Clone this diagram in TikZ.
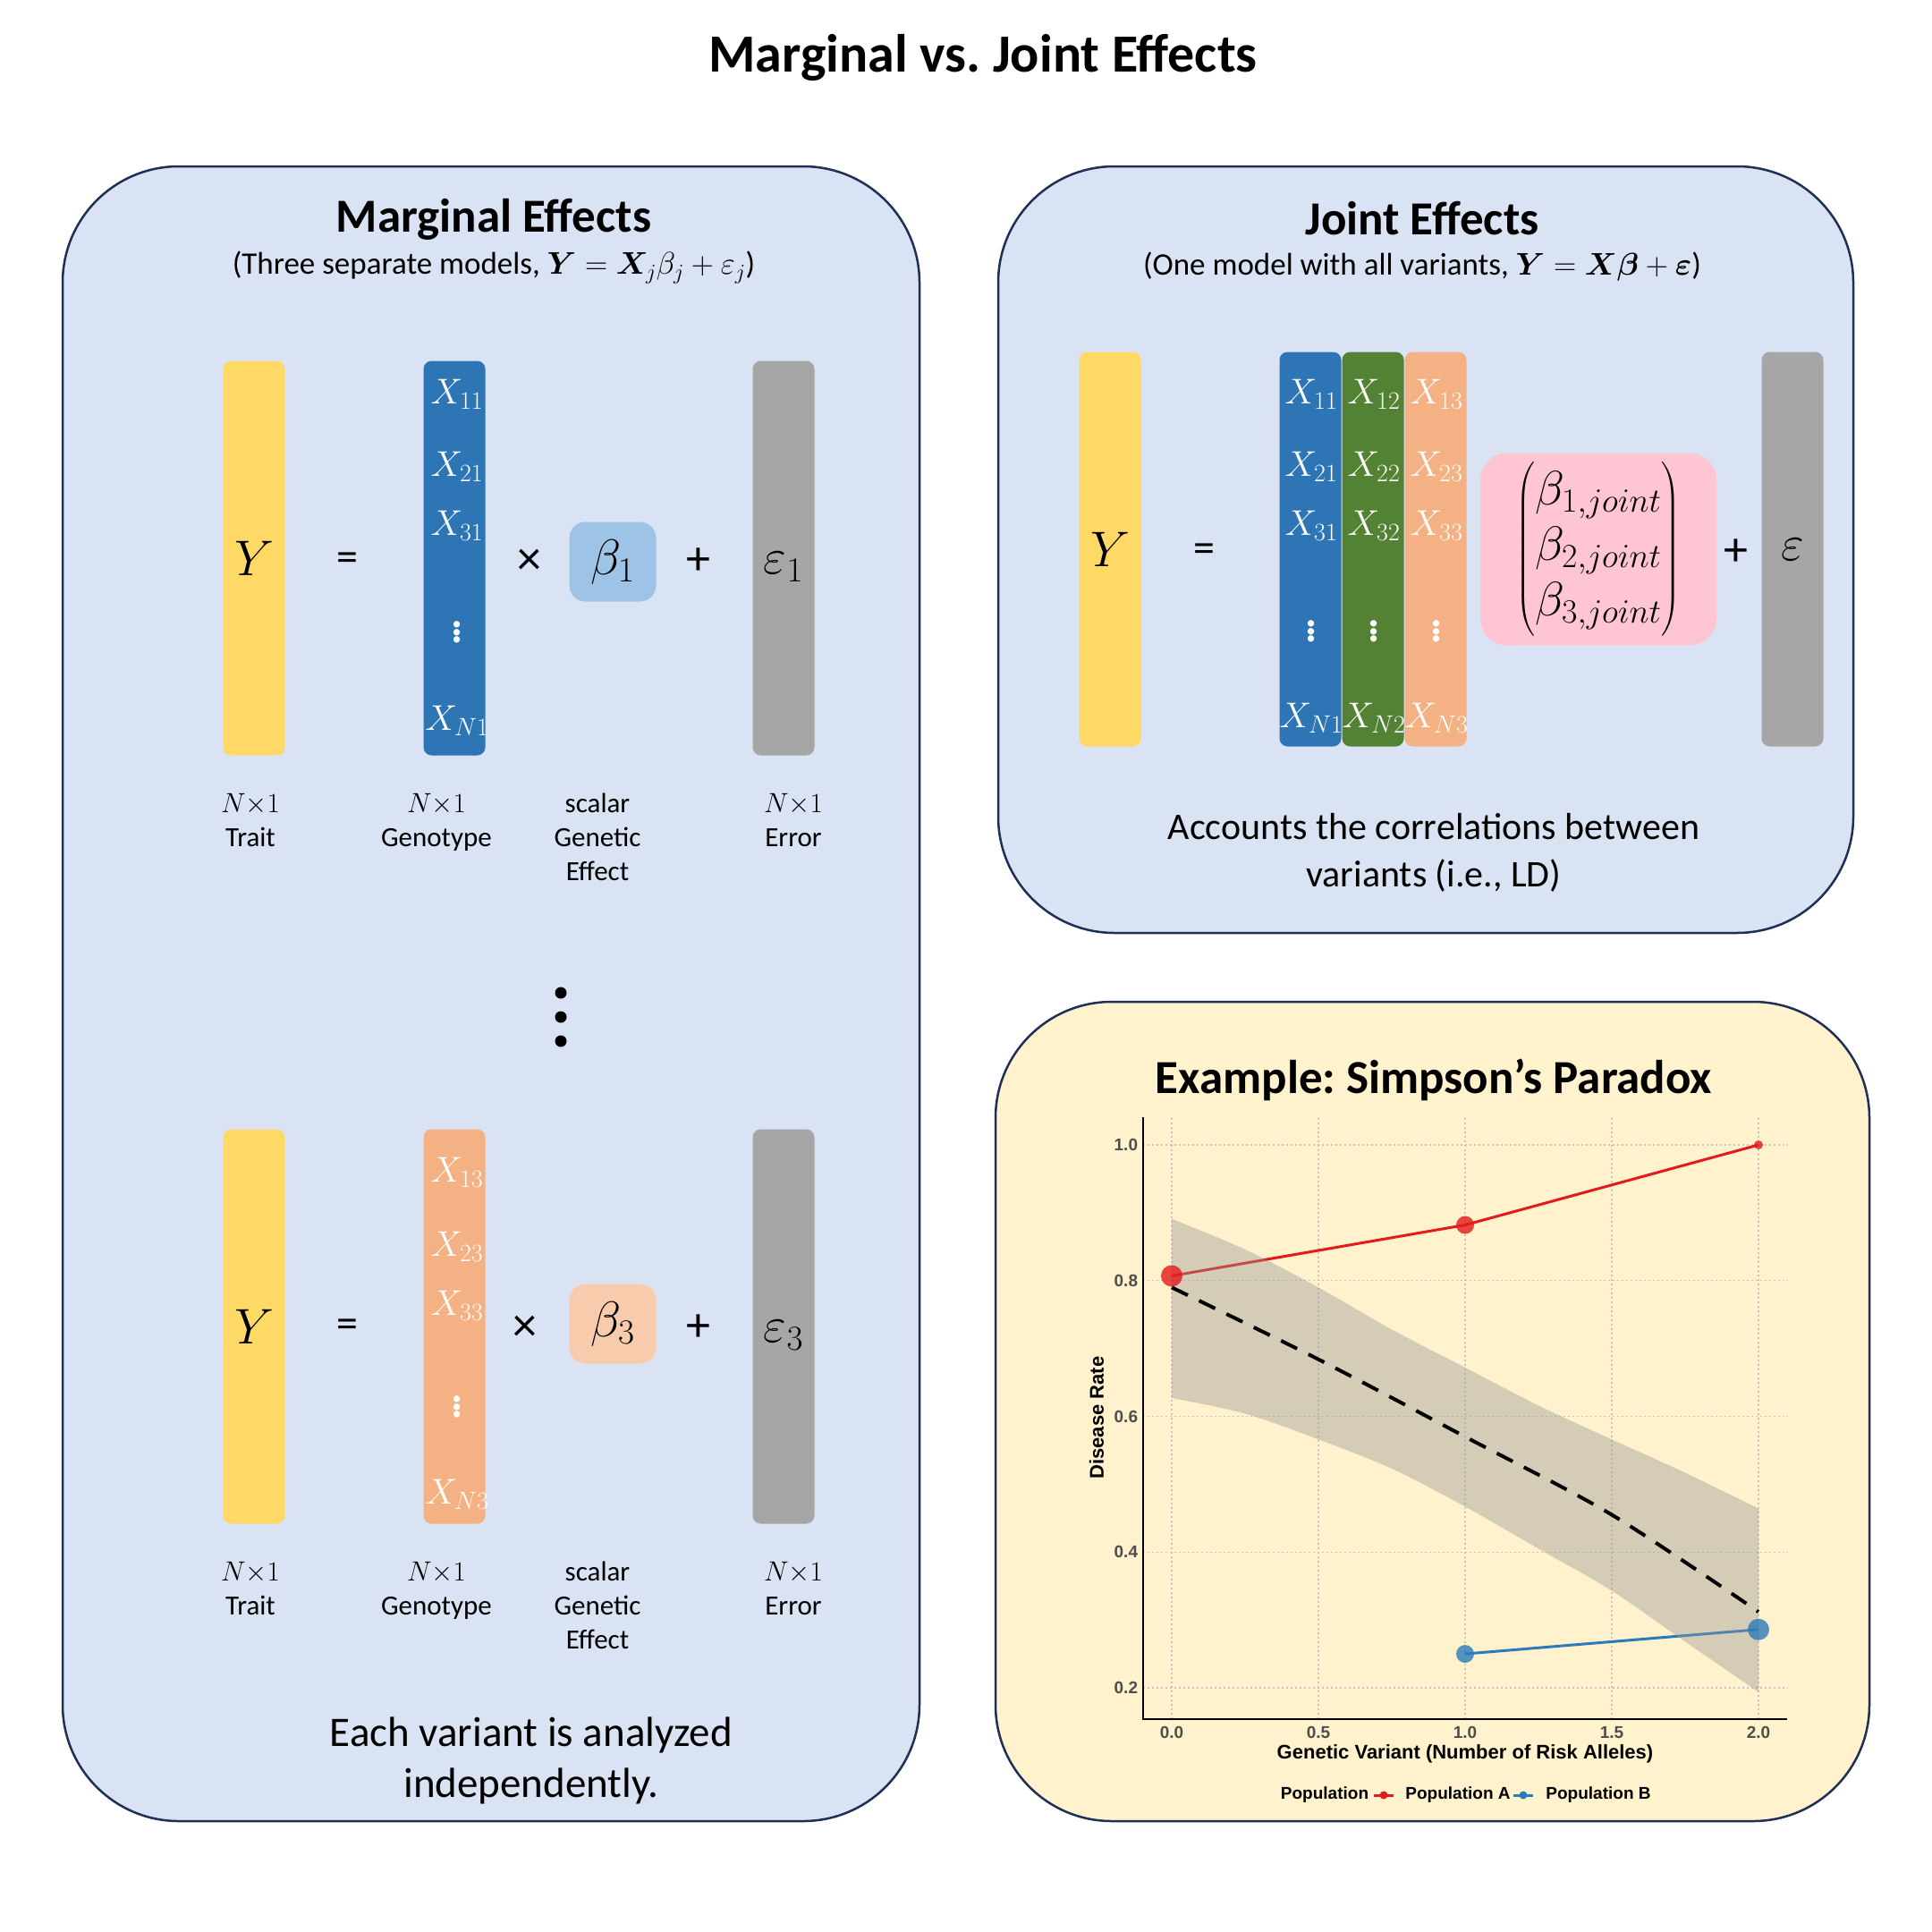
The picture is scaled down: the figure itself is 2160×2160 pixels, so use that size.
\RequirePackage{fix-cm}
\documentclass[tikz,border=0pt]{standalone}
\usepackage{amsmath}
\usepackage{bm}
\usepackage{fontspec}
\setmainfont{Carlito}
\newfontfamily\plotfont{Liberation Sans}
\usetikzlibrary{positioning}
\frenchspacing

\definecolor{panelblue}{HTML}{DAE3F3}
\definecolor{panelyellow}{HTML}{FFF2CC}
\definecolor{panelline}{HTML}{1F3056}
\definecolor{traitcol}{HTML}{FFD966}
\definecolor{snpone}{HTML}{2E75B6}
\definecolor{snptwo}{HTML}{548235}
\definecolor{snpthree}{HTML}{F4B183}
\definecolor{errcol}{HTML}{A6A6A6}
\definecolor{betaone}{HTML}{9DC3E6}
\definecolor{betathree}{HTML}{F8CBAD}
\definecolor{betajoint}{HTML}{FFC5D2}
\definecolor{bandgrey}{HTML}{959595}
\definecolor{popa}{HTML}{E41A1C}
\definecolor{popb}{HTML}{2B7BBA}
\definecolor{tickgrey}{HTML}{4D4D4D}
\definecolor{gridgrey}{HTML}{C4C4C4}

\tikzset{
  panel/.style={draw=panelline, line width=2.5pt, rounded corners=130pt},
  colbar/.style={rectangle, rounded corners=9pt, minimum width=69pt, minimum height=441pt,
    inner sep=0pt, font=\fontsize{56}{66}\selectfont},
  betabox/.style={rectangle, rounded corners=18pt, minimum width=97pt, minimum height=89pt,
    inner sep=0pt, font=\fontsize{56}{66}\selectfont},
  barlbl/.style={inner sep=0pt, font=\fontsize{56}{66}\selectfont},
  entry/.style={text=white, inner sep=0pt, font=\fontsize{40}{48}\selectfont},
  dotsentry/.style={text=white, inner sep=0pt, font=\fontsize{60}{70}\selectfont},
  opsym/.style={inner sep=0pt, font=\fontsize{54}{64}\selectfont},
  dimlbl/.style={align=center, anchor=north, inner sep=0pt, font=\fontsize{31}{38}\selectfont},
  heading/.style={font=\bfseries\fontsize{53}{64}\selectfont},
  subhead/.style={font=\fontsize{35}{42}\selectfont},
  note/.style={align=center, font=\fontsize{47}{57}\selectfont},
  bigdot/.style={circle, fill=black, minimum size=13pt, inner sep=0pt},
  gridline/.style={gridgrey, line width=1.2pt, dash pattern=on 2pt off 3pt},
  ticklbl/.style={text=tickgrey, inner sep=0pt, font=\plotfont\bfseries\fontsize{19}{23}\selectfont},
  axislbl/.style={inner sep=0pt, font=\plotfont\bfseries\fontsize{22}{26}\selectfont},
  leglbl/.style={inner sep=0pt, font=\plotfont\bfseries\fontsize{19}{23}\selectfont}
}

\begin{document}
\begin{tikzpicture}[x=1pt, y=-1pt]
    \useasboundingbox (0,0) rectangle (2160,2160);
    \fill[white] (0,0) rectangle (2160,2160);

    \node[font=\bfseries\fontsize{60}{72}\selectfont] (title) at (1099,65) {Marginal vs. Joint Effects};

    % panels
    \draw[panel, fill=panelblue] (70,186) rectangle (1028,2036);
    \draw[panel, fill=panelblue] (1116,186) rectangle (2072,1043);
    \draw[panel, fill=panelyellow] (1113,1120) rectangle (2090,2036);

    % marginal model
    \node[heading] (margtitle) at (552,245) {Marginal Effects};
    \node[subhead] (margsub) at (552,299) {(Three separate models, $\bm{Y} = \bm{X}_j\beta_j + \varepsilon_j$)};

    \node[colbar, fill=traitcol] (yone) at (284,624) {$Y$};
    \node[opsym, font=\fontsize{48}{58}\selectfont] (eqone) at (388,628) {=};
    \node[colbar, fill=snpone] (xone) at (508,624) {};
    \node[entry] (xoneone) at (511,441) {$X_{11}$};
    \node[entry] (xtwoone) at (511,522) {$X_{21}$};
    \node[entry] (xthreeone) at (511,588) {$X_{31}$};
    \node[dotsentry] (xdotsone) at (511,704) {$\vdots$};
    \node[entry] (xnone) at (511,806) {$X_{N1}$};
    \node[opsym] (timesone) at (592,628) {×};
    \node[betabox, fill=betaone] (betaone) at (685,628) {$\beta_1$};
    \node[opsym] (plusone) at (781,628) {+};
    \node[colbar, fill=errcol] (epsone) at (876,624) {};
    \node[barlbl] (epsonelbl) at (876,634) {$\varepsilon_1$};

    \node[dimlbl] (dimyone) at (280,887) {$N{\times}1$\\Trait};
    \node[dimlbl] (dimxone) at (488,887) {$N{\times}1$\\Genotype};
    \node[dimlbl] (dimbone) at (668,887) {scalar\\Genetic\\Effect};
    \node[dimlbl] (dimeone) at (887,887) {$N{\times}1$\\Error};

    \node[bigdot] (gapa) at (627,1110) {};
    \node[bigdot] (gapb) at (627,1137) {};
    \node[bigdot] (gapc) at (627,1164) {};

    \node[colbar, fill=traitcol] (ythree) at (284,1483) {$Y$};
    \node[opsym, font=\fontsize{48}{58}\selectfont] (eqthree) at (388,1485) {=};
    \node[colbar, fill=snpthree] (xthree) at (508,1483) {};
    \node[entry] (xonethree) at (511,1311) {$X_{13}$};
    \node[entry] (xtwothree) at (511,1394) {$X_{23}$};
    \node[entry] (xthreethree) at (511,1460) {$X_{33}$};
    \node[dotsentry] (xdotsthree) at (511,1570) {$\vdots$};
    \node[entry] (xnthree) at (511,1671) {$X_{N3}$};
    \node[opsym] (timesthree) at (587,1485) {×};
    \node[betabox, fill=betathree] (betathree) at (685,1480) {$\beta_3$};
    \node[opsym] (plusthree) at (781,1485) {+};
    \node[colbar, fill=errcol] (epsthree) at (876,1483) {};
    \node[barlbl] (epsthreelbl) at (876,1493) {$\varepsilon_3$};

    \node[dimlbl] (dimythree) at (280,1746) {$N{\times}1$\\Trait};
    \node[dimlbl] (dimxthree) at (488,1746) {$N{\times}1$\\Genotype};
    \node[dimlbl] (dimbthree) at (668,1746) {scalar\\Genetic\\Effect};
    \node[dimlbl] (dimethree) at (887,1746) {$N{\times}1$\\Error};

    \node[note] (margnote) at (594,1968) {Each variant is analyzed\\independently.};

    % joint model
    \node[heading] (jointtitle) at (1590,244) {Joint Effects};
    \node[subhead] (jointsub) at (1590,298) {(One model with all variants, $\bm{Y} = \bm{X\beta} + \bm{\varepsilon}$)};

    \node[colbar, fill=traitcol] (yjoint) at (1241,614) {$Y$};
    \node[opsym, font=\fontsize{48}{58}\selectfont] (eqjoint) at (1346,618) {=};
    \node[colbar, fill=snpone] (colone) at (1465,614) {};
    \node[colbar, fill=snptwo] (coltwo) at (1535,614) {};
    \node[colbar, fill=snpthree] (colthree) at (1605,614) {};
    \node[entry] (jxoneone) at (1466,441) {$X_{11}$};
    \node[entry] (jxtwoone) at (1466,522) {$X_{21}$};
    \node[entry] (jxthreeone) at (1466,588) {$X_{31}$};
    \node[dotsentry] (jxdotsone) at (1466,703) {$\vdots$};
    \node[entry] (jxnone) at (1466,803) {$X_{N1}$};
    \node[entry] (jxonetwo) at (1536,441) {$X_{12}$};
    \node[entry] (jxtwotwo) at (1536,522) {$X_{22}$};
    \node[entry] (jxthreetwo) at (1536,588) {$X_{32}$};
    \node[dotsentry] (jxdotstwo) at (1536,703) {$\vdots$};
    \node[entry] (jxntwo) at (1536,803) {$X_{N2}$};
    \node[entry] (jxonethree) at (1606,441) {$X_{13}$};
    \node[entry] (jxtwothree) at (1606,522) {$X_{23}$};
    \node[entry] (jxthreethree) at (1606,588) {$X_{33}$};
    \node[dotsentry] (jxdotsthree) at (1606,703) {$\vdots$};
    \node[entry] (jxnthree) at (1606,803) {$X_{N3}$};
    \node[fill=betajoint, rounded corners=30pt, minimum width=264pt, minimum height=215pt,
      inner sep=0pt, font=\fontsize{54}{62}\selectfont] (betajoint) at (1787,614)
      {$\begin{pmatrix}\beta_{1,joint}\\ \beta_{2,joint}\\ \beta_{3,joint}\end{pmatrix}$};
    \node[opsym] (plusjoint) at (1941,618) {+};
    \node[colbar, fill=errcol] (epsjoint) at (2004,614) {$\varepsilon$};

    \node[note, font=\fontsize{42}{53}\selectfont] (jointnote) at (1603,953) {Accounts the correlations between\\variants (i.e., LD)};

    % simpson example
    \node[heading] (simptitle) at (1603,1207) {Example: Simpson’s Paradox};

    \begin{scope}[shift={(1310,2038.75)}, x=328pt, y=758.75pt]
        % grid
        \draw[gridline] (0,0.154) -- (0,1.041);
        \draw[gridline] (0.5,0.154) -- (0.5,1.041);
        \draw[gridline] (1,0.154) -- (1,1.041);
        \draw[gridline] (1.5,0.154) -- (1.5,1.041);
        \draw[gridline] (2,0.154) -- (2,1.041);
        \draw[gridline] (-0.098,0.2) -- (2.098,0.2);
        \draw[gridline] (-0.098,0.4) -- (2.098,0.4);
        \draw[gridline] (-0.098,0.6) -- (2.098,0.6);
        \draw[gridline] (-0.098,0.8) -- (2.098,0.8);
        \draw[gridline] (-0.098,1.0) -- (2.098,1.0);

        % populations
        \draw[popa, line width=3pt] (0,0.807) -- (1,0.882) -- (2,1.0);
        \draw[popb, line width=3pt] (1,0.250) -- (2,0.286);

        % pooled fit and band
        \fill[bandgrey, opacity=0.4] plot[smooth] coordinates {(0,0.891) (0.25,0.846) (0.5,0.790) (0.75,0.728) (1,0.672) (1.25,0.616) (1.5,0.566) (1.75,0.517) (2,0.464)}
          -- plot[smooth] coordinates {(2,0.194) (1.75,0.268) (1.5,0.343) (1.25,0.405) (1,0.467) (0.75,0.523) (0.5,0.566) (0.25,0.604) (0,0.627)} -- cycle;
        \draw[black, line width=4pt, dash pattern=on 20pt off 14pt] plot[smooth] coordinates {(0,0.790) (0.5,0.684) (1,0.570) (1.5,0.455) (2,0.312)};

        \fill[popa, opacity=0.8] (0,0.807) circle[radius=12pt];
        \fill[popa, opacity=0.8] (1,0.882) circle[radius=10pt];
        \fill[popa, opacity=0.8] (2,1.0) circle[radius=5pt];
        \fill[popb, opacity=0.8] (1,0.250) circle[radius=10pt];
        \fill[popb, opacity=0.8] (2,0.286) circle[radius=12pt];

        % axes
        \draw[line width=2pt] (-0.098,1.041) -- (-0.098,0.154) -- (2.098,0.154);

        \node[ticklbl] (xtzero) at (0,0.134) {0.0};
        \node[ticklbl] (xthalf) at (0.5,0.134) {0.5};
        \node[ticklbl] (xtone) at (1,0.134) {1.0};
        \node[ticklbl] (xtthreehalf) at (1.5,0.134) {1.5};
        \node[ticklbl] (xttwo) at (2,0.134) {2.0};
        \node[ticklbl, anchor=east] (ytpttwo) at (-0.115,0.2) {0.2};
        \node[ticklbl, anchor=east] (ytptfour) at (-0.115,0.4) {0.4};
        \node[ticklbl, anchor=east] (ytptsix) at (-0.115,0.6) {0.6};
        \node[ticklbl, anchor=east] (ytpteight) at (-0.115,0.8) {0.8};
        \node[ticklbl, anchor=east] (ytone) at (-0.115,1.0) {1.0};

        \node[axislbl] (xtitle) at (1,0.103) {Genetic Variant (Number of Risk Alleles)};
        \node[axislbl, rotate=90] (ytitle) at (-0.256,0.598) {Disease Rate};
    \end{scope}

    % legend
    \node[leglbl] (legtitle) at (1481,2007) {Population};
    \coordinate (keyastart) at (1536,2007);
    \coordinate (keyaend) at (1558,2007);
    \draw[popa, line width=3pt] (keyastart) -- (keyaend);
    \fill[popa] (1547,2007) circle[radius=4.5];
    \node[leglbl] (lega) at (1630,2007) {Population A};
    \coordinate (keybstart) at (1692,2007);
    \coordinate (keybend) at (1714,2007);
    \draw[popb, line width=3pt] (keybstart) -- (keybend);
    \fill[popb] (1703,2007) circle[radius=4.5];
    \node[leglbl] (legb) at (1787,2007) {Population B};

\end{tikzpicture}
\end{document}
